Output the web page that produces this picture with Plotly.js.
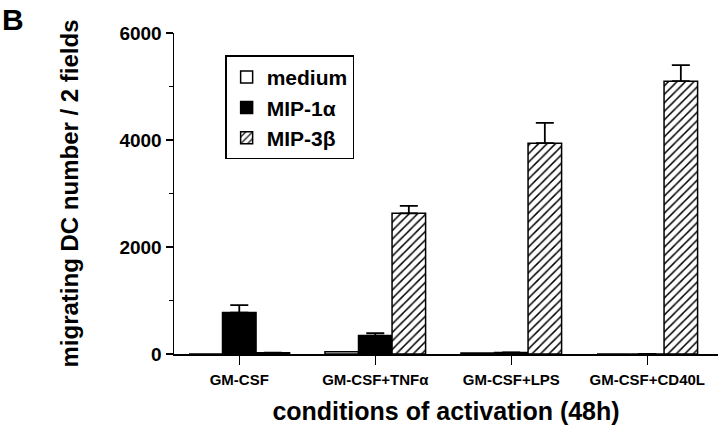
<!DOCTYPE html>
<html>
<head>
<meta charset="utf-8">
<script src="https://cdn.plot.ly/plotly-3.0.1.min.js"></script>
<style>
  html, body { margin: 0; padding: 0; background: white; }
  #plot { width: 720px; height: 433px; }
</style>
</head>
<body>
<div id="plot"></div>
<script>
const conditions = ['GM-CSF', 'GM-CSF+TNFα', 'GM-CSF+LPS', 'GM-CSF+CD40L'];

const medium = [0, 40, 20, 0];
const mip1a = [775, 345, 30, 0];
const mip1aErr = [140, 45, 0, 0];
const mip3b = [25, 2630, 3940, 5100];
const mip3bErr = [0, 140, 380, 300];

const FONT = 'Liberation Sans, Arial, Helvetica, sans-serif';

function bold(s) { return '<b>' + s + '</b>'; }

const traces = [
    {
        x: conditions, y: medium, type: 'bar', name: bold('medium'),
        marker: { color: 'white', line: { color: 'black', width: 1.5 } }
    },
    {
        x: conditions, y: mip1a, type: 'bar', name: bold('MIP-1α'),
        marker: { color: 'black', line: { color: 'black', width: 1.5 } },
        error_y: { type: 'data', array: mip1aErr, arrayminus: mip1aErr.map(() => 0),
                   symmetric: false, color: 'black', thickness: 1.8, width: 9 }
    },
    {
        x: conditions, y: mip3b, type: 'bar', name: bold('MIP-3β'),
        marker: {
            color: 'white',
            line: { color: 'black', width: 1.5 },
            pattern: { shape: '/', fgcolor: 'black', bgcolor: 'white', size: 6, solidity: 0.25 }
        },
        error_y: { type: 'data', array: mip3bErr, arrayminus: mip3bErr.map(() => 0),
                   symmetric: false, color: 'black', thickness: 1.8, width: 9 }
    }
];

const layout = {
    width: 720, height: 433,
    margin: { l: 174, r: 2, t: 33, b: 79 },
    paper_bgcolor: 'white', plot_bgcolor: 'white',
    font: { family: FONT, color: 'black' },
    barmode: 'group',
    bargap: 0.26,
    bargroupgap: 0,
    showlegend: true,
    legend: {
        x: 0.094, y: 0.93, xanchor: 'left', yanchor: 'top',
        bordercolor: 'black', borderwidth: 1.5, bgcolor: 'white',
        font: { family: FONT, size: 21, color: 'black' },
        tracegroupgap: 0, itemwidth: 30
    },
    xaxis: {
        type: 'category',
        range: [-0.48, 3.52],
        showline: true, linecolor: 'black', linewidth: 1.5,
        ticks: 'outside', ticklen: 9, tickwidth: 1.5, tickcolor: 'black',
        ticklabelstandoff: 2,
        showgrid: false, zeroline: false,
        tickfont: { family: FONT, size: 15, color: 'black' },
        tickvals: conditions,
        ticktext: conditions.map(bold),
        title: { text: bold('conditions of activation (48h)'), font: { family: FONT, size: 25 }, standoff: 16 }
    },
    yaxis: {
        range: [0, 6000],
        dtick: 2000,
        showline: true, linecolor: 'black', linewidth: 1.5,
        ticks: 'outside', ticklen: 7, tickwidth: 1.5, tickcolor: 'black',
        minor: { dtick: 1000, ticks: 'outside', ticklen: 4, tickwidth: 1.5, tickcolor: 'black', showgrid: false },
        showgrid: false, zeroline: false,
        tickfont: { family: FONT, size: 19, color: 'black' },
        tickprefix: '<b>', ticksuffix: '</b>',
        title: { text: bold('migrating DC number / 2 fields'), font: { family: FONT, size: 24 }, standoff: 34 }
    },
    annotations: [{
        text: bold('B'), xref: 'paper', yref: 'paper', x: -0.32, y: 1.1,
        xanchor: 'left', yanchor: 'top', showarrow: false,
        font: { family: FONT, size: 30, color: 'black' }
    }]
};

Plotly.newPlot('plot', traces, layout, { staticPlot: true });
</script>
</body>
</html>
